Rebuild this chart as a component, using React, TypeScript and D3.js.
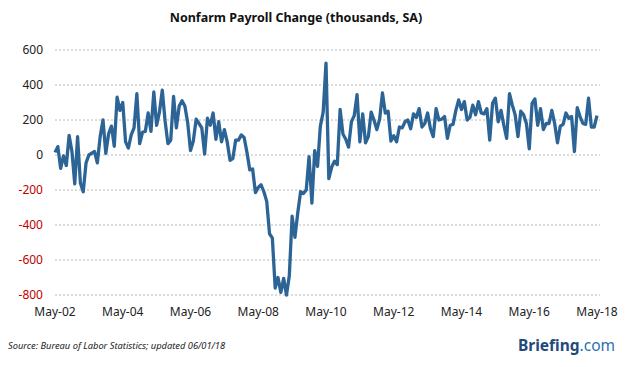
import React, { useRef, useEffect } from "react";
import * as d3 from "d3";

// monthly change in nonfarm payrolls, thousands, May 2002 .. May 2018
const payrolls2002 = [15, 48, -76, -5, -60, 112, 20, -165];
const payrolls2003 = [105, -160, -210, -45, 0, 10, 20, -45, 105, 200, 10, 122];
const payrolls2004 = [165, 50, 330, 255, 300, 75, 40, 115, 155, 350, 65, 130];
const payrolls2005 = [135, 240, 135, 360, 170, 245, 370, 195, 65, 85, 335, 155];
const payrolls2006 = [280, 310, 280, 185, 25, 80, 205, 180, 155, 5, 210, 170];
const payrolls2007 = [240, 90, 190, 75, 145, 75, -30, -20, 85, 85, 115, 100];
const payrolls2008 = [15, -85, -80, -215, -185, -170, -210, -265, -450, -475, -760, -700];
const payrolls2009 = [-785, -705, -800, -690, -350, -470, -330, -210, -220, -200, -10, -275];
const payrolls2010 = [25, -65, 165, 245, 525, -135, -70, -35, -55, 260, 120, 90];
const payrolls2011 = [45, 190, 225, 345, 75, 235, 70, 105, 245, 200, 145, 205];
const payrolls2012 = [355, 240, 250, 80, 110, 75, 160, 155, 190, 200, 150, 235];
const payrolls2013 = [215, 265, 160, 180, 240, 150, 105, 265, 200, 205, 220, 95];
const payrolls2014 = [170, 175, 255, 315, 260, 305, 200, 215, 285, 230, 305, 240];
const payrolls2015 = [235, 265, 85, 295, 325, 190, 255, 170, 95, 350, 285, 230];
const payrolls2016 = [105, 250, 230, 180, 35, 295, 320, 170, 265, 145, 180, 180];
const payrolls2017 = [255, 180, 70, 165, 175, 240, 210, 220, 20, 270, 220, 180];
const payrolls2018 = [175, 325, 160, 160, 225];

const payrollChange = [
  ...payrolls2002, ...payrolls2003, ...payrolls2004, ...payrolls2005,
  ...payrolls2006, ...payrolls2007, ...payrolls2008, ...payrolls2009,
  ...payrolls2010, ...payrolls2011, ...payrolls2012, ...payrolls2013,
  ...payrolls2014, ...payrolls2015, ...payrolls2016, ...payrolls2017,
  ...payrolls2018,
];

const xTickLabels = ["May-02", "May-04", "May-06", "May-08", "May-10", "May-12", "May-14", "May-16", "May-18"];
const yTicks = [600, 400, 200, 0, -200, -400, -600, -800];

const W = 626;
const H = 367;

const App = () => {
  const svgRef = useRef(null);

  useEffect(() => {
    const svg = d3.select(svgRef.current);
    svg.selectAll("*").remove();

    const left = 55, right = 597, top = 50, bottom = 295;
    const font = "'Noto Sans', 'DejaVu Sans', sans-serif";

    const x = d3.scaleLinear().domain([0, payrollChange.length - 1]).range([left, right]);
    const y = d3.scaleLinear().domain([-800, 600]).range([bottom, top]);

    // gridlines + y labels
    const yAxis = svg.append("g");
    yAxis
      .selectAll("line")
      .data(yTicks)
      .enter()
      .append("line")
      .attr("x1", left)
      .attr("x2", 600)
      .attr("y1", (d) => y(d))
      .attr("y2", (d) => y(d))
      .attr("stroke", "#a6a6a6")
      .attr("stroke-width", 0.8)
      .attr("stroke-dasharray", "2,2");

    yAxis
      .selectAll("text")
      .data(yTicks)
      .enter()
      .append("text")
      .attr("x", 43)
      .attr("y", (d) => y(d) + 4)
      .attr("text-anchor", "end")
      .style("font-family", font)
      .style("font-size", "12px")
      .attr("fill", (d) => (d < 0 ? "#c00000" : "#222"))
      .text((d) => d);

    // x labels every 24 months
    svg
      .append("g")
      .selectAll("text")
      .data(xTickLabels)
      .enter()
      .append("text")
      .attr("x", (d, i) => x(i * 24))
      .attr("y", 316)
      .attr("text-anchor", "middle")
      .style("font-family", font)
      .style("font-size", "12px")
      .attr("fill", "#222")
      .text((d) => d);

    const line = d3
      .line()
      .x((d, i) => x(i))
      .y((d) => y(d));

    svg
      .append("path")
      .datum(payrollChange)
      .attr("d", line)
      .attr("fill", "none")
      .attr("stroke", "#2c6496")
      .attr("stroke-width", 3.3)
      .attr("stroke-linejoin", "round");

    svg
      .append("text")
      .attr("x", 296)
      .attr("y", 22)
      .attr("text-anchor", "middle")
      .style("font-family", font)
      .style("font-weight", "bold")
      .style("font-size", "12.5px")
      .attr("fill", "#111")
      .text("Nonfarm Payroll Change (thousands, SA)");

    svg
      .append("text")
      .attr("x", 8)
      .attr("y", 349)
      .style("font-family", font)
      .style("font-style", "italic")
      .style("font-size", "9.3px")
      .attr("fill", "#222")
      .text("Source: Bureau of Labor Statistics; updated 06/01/18");

    const brand = svg
      .append("text")
      .attr("x", 615)
      .attr("y", 351)
      .attr("text-anchor", "end")
      .style("font-family", font)
      .style("font-size", "15.5px");
    brand.append("tspan").attr("font-weight", "bold").attr("fill", "#1f4a7c").text("Briefing");
    brand.append("tspan").attr("fill", "#2f6fb0").text(".com");
  }, []);

  return (
    <svg
      ref={svgRef}
      width={W}
      height={H}
      style={{ position: "absolute", left: 0, top: 0, background: "#fff" }}
    ></svg>
  );
};

export default App;
